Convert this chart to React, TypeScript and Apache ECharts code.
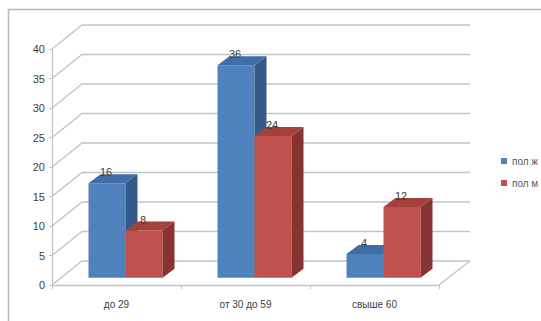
import React, { useEffect, useRef } from "react";
import * as echarts from "echarts";

const categories = ["до 29", "от 30 до 59", "свыше 60"];
const seriesNames = ["пол ж", "пол м"];
const femaleValues = [16, 36, 4];
const maleValues = [8, 24, 12];
const yTicks = [0, 5, 10, 15, 20, 25, 30, 35, 40];

const FONT = "'Liberation Sans', Arial, sans-serif";
const GRID = "#C4C4C4";
const WALL_DX = 31;
const WALL_DY = -24;
const BAR_DX = 9;
const BAR_DY = -7.3;
const DEPTH_DX = 12;
const DEPTH_DY = -9;
const BAR_W = 37;

const palettes = [
  { front: "#4F81BD", top: "#3F6DA6", side: "#335A88" },
  { front: "#C0504D", top: "#A5403D", side: "#873331" },
];

function makeBarRender(seriesIdx: number) {
  return (params: any, api: any) => {
    const cat = api.value(0);
    const val = api.value(1);
    const base = api.coord([cat, 0]);
    const top = api.coord([cat, val]);
    const cx = base[0] + BAR_DX;
    const x0 = seriesIdx === 0 ? cx - BAR_W : cx;
    const x1 = x0 + BAR_W;
    const yb = base[1] + BAR_DY;
    const yt = top[1] + BAR_DY;
    const p = palettes[seriesIdx];
    return {
      type: "group",
      children: [
        {
          type: "polygon",
          shape: { points: [[x0, yb], [x1, yb], [x1, yt], [x0, yt]] },
          style: { fill: p.front },
        },
        {
          type: "polygon",
          shape: {
            points: [
              [x0, yt],
              [x1, yt],
              [x1 + DEPTH_DX, yt + DEPTH_DY],
              [x0 + DEPTH_DX, yt + DEPTH_DY],
            ],
          },
          style: { fill: p.top },
        },
        {
          type: "polygon",
          shape: {
            points: [
              [x1, yb],
              [x1 + DEPTH_DX, yb + DEPTH_DY],
              [x1 + DEPTH_DX, yt + DEPTH_DY],
              [x1, yt],
            ],
          },
          style: { fill: p.side },
        },
        {
          type: "text",
          style: {
            text: String(val),
            x: (x0 + x1) / 2 - 1,
            y: yt - 11,
            fill: "#404040",
            font: `11px ${FONT}`,
            align: "center",
            verticalAlign: "middle",
          },
        },
      ],
    };
  };
}

export default function App() {
  const ref = useRef<HTMLDivElement>(null);
  useEffect(() => {
    if (!ref.current) return;
    const chart = echarts.init(ref.current, null, { renderer: "svg" });
    const option: any = {
      animation: false,
      backgroundColor: "#FFFFFF",
      textStyle: { fontFamily: FONT },
      grid: { left: 52, top: 49, width: 387, height: 236 },
      legend: {
        data: seriesNames,
        orient: "vertical",
        left: 496,
        top: 151,
        itemWidth: 6,
        itemHeight: 6,
        itemGap: 12,
        icon: "rect",
        textStyle: { fontSize: 10, color: "#595959", fontFamily: FONT },
        selectedMode: false,
      },
      xAxis: {
        type: "category",
        data: categories,
        boundaryGap: true,
        axisLine: { show: true, lineStyle: { color: GRID, width: 1.3 } },
        axisTick: { show: true, length: 4, alignWithLabel: false, lineStyle: { color: GRID } },
        axisLabel: { fontSize: 10, color: "#404040", margin: 14, fontFamily: FONT },
        splitLine: { show: false },
      },
      yAxis: {
        type: "value",
        min: 0,
        max: 40,
        interval: 5,
        axisLine: { show: true, lineStyle: { color: GRID, width: 1.3 } },
        axisTick: { show: true, length: 3, lineStyle: { color: GRID } },
        axisLabel: { fontSize: 11, color: "#404040", margin: 7, fontFamily: FONT },
        splitLine: { show: false },
      },
      graphic: [
        {
          type: "rect",
          shape: { x: 8.5, y: 9.5, width: 540, height: 320 },
          style: { fill: "none", stroke: "#B8B8B8", lineWidth: 1.5 },
          silent: true,
        },
      ],
      series: [
        {
          type: "custom",
          name: "wall",
          clip: false,
          silent: true,
          data: yTicks.map((v) => [0, v]),
          renderItem: (params: any, api: any) => {
            const v = api.value(1);
            const cs = params.coordSys;
            const y = api.coord([0, v])[1];
            const left = cs.x;
            const right = cs.x + cs.width;
            const children: any[] = [
              {
                type: "polyline",
                shape: {
                  points: [
                    [left, y],
                    [left + WALL_DX - 1, y + WALL_DY],
                    [right + WALL_DX, y + WALL_DY],
                  ],
                },
                style: { stroke: GRID, lineWidth: 1.4, fill: "none" },
              },
            ];
            if (v === 0) {
              children.push({
                type: "line",
                shape: { x1: right, y1: y, x2: right + WALL_DX, y2: y + WALL_DY },
                style: { stroke: GRID, lineWidth: 1.4 },
              });
            }
            return { type: "group", children };
          },
        },
        {
          type: "custom",
          name: seriesNames[0],
          clip: false,
          itemStyle: { color: palettes[0].front },
          data: femaleValues.map((v, i) => [i, v]),
          renderItem: makeBarRender(0),
        },
        {
          type: "custom",
          name: seriesNames[1],
          clip: false,
          itemStyle: { color: palettes[1].front },
          data: maleValues.map((v, i) => [i, v]),
          renderItem: makeBarRender(1),
        },
      ],
    };
    chart.setOption(option);
    return () => chart.dispose();
  }, []);
  return (
    <div
      ref={ref}
      style={{ position: "fixed", left: 0, top: 0, width: 541, height: 321 }}
    />
  );
}
